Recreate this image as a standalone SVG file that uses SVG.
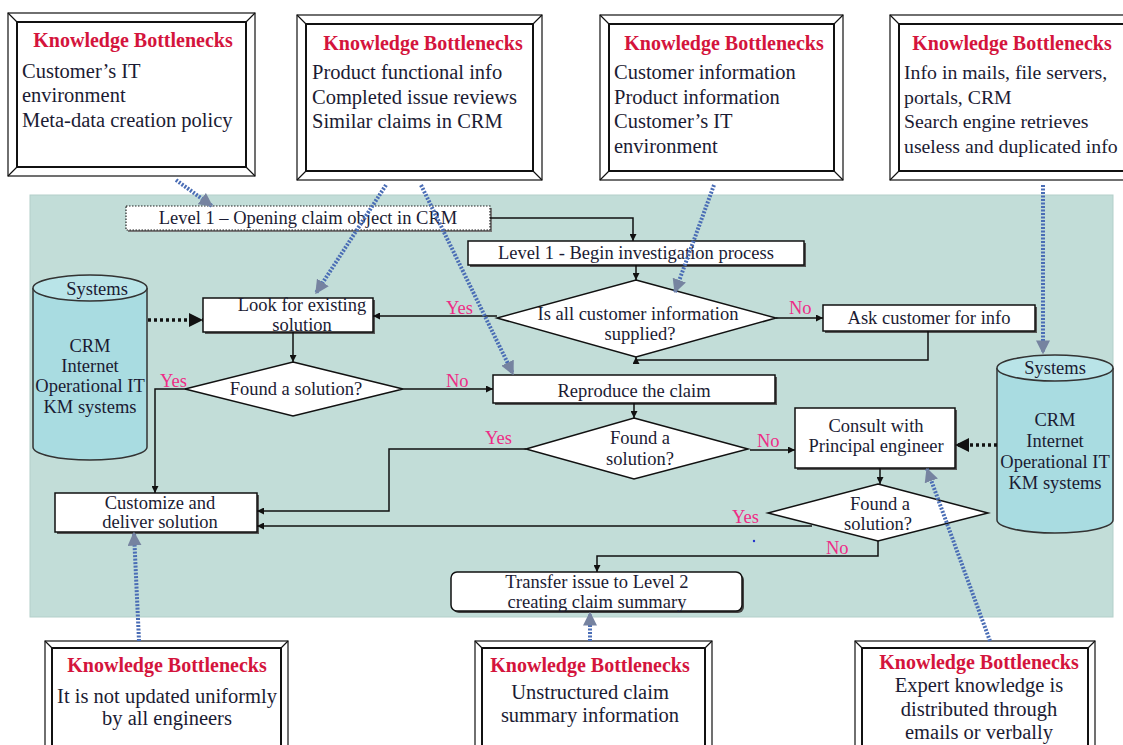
<svg xmlns="http://www.w3.org/2000/svg" width="1123" height="745" viewBox="0 0 1123 745">
<defs>
<style>
.t{font-family:"Liberation Serif","Times New Roman","DejaVu Serif",serif;fill:#1b1b33}
.fl{font-size:18.5px}
.bt{font-family:"Liberation Serif","Times New Roman","DejaVu Serif",serif;font-weight:bold;font-size:20px;fill:#d4143c}
.bb{font-size:20.5px}
.bs{font-size:19.8px}
.yn{font-family:"Liberation Serif","Times New Roman","DejaVu Serif",serif;font-size:18.5px;fill:#ee2c86}
.box{fill:#fff;stroke:#111;stroke-width:1.5}
.sh{fill:#555}
.dia{fill:#fff;stroke:#111;stroke-width:1.5}
.cyl{fill:#a9dce1;stroke:#333;stroke-width:1.5}
.cylt{fill:#b9e4e8;stroke:#333;stroke-width:1.5}
.fo{fill:#fff;stroke:#111;stroke-width:1.2}
.fi{fill:#fff;stroke:#111;stroke-width:2}
.fc{stroke:#111;stroke-width:1.2}
.ln{fill:none;stroke:#111;stroke-width:1.5}
.dt{fill:none;stroke:#111;stroke-width:3.5;stroke-dasharray:3 3}
.bl{fill:none;stroke:#4a6db5;stroke-width:4;stroke-dasharray:2 1.5}
</style>
<marker id="ah" viewBox="0 0 10 10" refX="10" refY="5" markerWidth="7" markerHeight="7" markerUnits="userSpaceOnUse" orient="auto"><path d="M0,0 L10,5 L0,10 z" fill="#111"/></marker>
<marker id="ahd" viewBox="0 0 10 10" refX="10" refY="5" markerWidth="4" markerHeight="4" orient="auto"><path d="M0,0 L10,5 L0,10 z" fill="#111"/></marker>
<marker id="ahb" viewBox="0 0 10 10" refX="9" refY="5" markerWidth="3.5" markerHeight="3.5" orient="auto"><path d="M0,0 L10,5 L0,10 z" fill="#7683a0"/></marker>
</defs>

<rect x="30" y="195" width="1083" height="422" fill="#c2ddd8" stroke="#b3cfca" stroke-width="1"/>

<!-- Knowledge bottleneck frames -->
<g id="kb1">
<rect class="fo" x="8" y="13" width="247" height="163"/>
<rect class="fi" x="17" y="22" width="229" height="145"/>
<path class="fc" d="M8,13 L17,22 M255,13 L246,22 M8,176 L17,167 M255,176 L246,167"/>
<text class="bt" x="133" y="47" text-anchor="middle">Knowledge Bottlenecks</text>
<text class="t bb" x="22" y="78">Customer’s IT</text>
<text class="t bb" x="22" y="102">environment</text>
<text class="t bb" x="22" y="127">Meta-data creation policy</text>
</g>
<g id="kb2">
<rect class="fo" x="297" y="15" width="245" height="165"/>
<rect class="fi" x="306" y="24" width="227" height="147"/>
<path class="fc" d="M297,15 L306,24 M542,15 L533,24 M297,180 L306,171 M542,180 L533,171"/>
<text class="bt" x="423" y="50" text-anchor="middle">Knowledge Bottlenecks</text>
<text class="t bb" x="312" y="79">Product functional info</text>
<text class="t bb" x="312" y="104">Completed issue reviews</text>
<text class="t bb" x="312" y="128">Similar claims in CRM</text>
</g>
<g id="kb3">
<rect class="fo" x="600" y="15" width="243" height="165"/>
<rect class="fi" x="609" y="24" width="225" height="147"/>
<path class="fc" d="M600,15 L609,24 M843,15 L834,24 M600,180 L609,171 M843,180 L834,171"/>
<text class="bt" x="724" y="50" text-anchor="middle">Knowledge Bottlenecks</text>
<text class="t bb" x="614" y="79">Customer information</text>
<text class="t bb" x="614" y="104">Product information</text>
<text class="t bb" x="614" y="128">Customer’s IT</text>
<text class="t bb" x="614" y="153">environment</text>
</g>
<g id="kb4">
<rect class="fo" x="890" y="15" width="245" height="165"/>
<rect class="fi" x="899" y="24" width="227" height="147"/>
<path class="fc" d="M890,15 L899,24 M890,180 L899,171"/>
<text class="bt" x="1012" y="50" text-anchor="middle">Knowledge Bottlenecks</text>
<text class="t bs" x="904" y="79">Info in mails, file servers,</text>
<text class="t bs" x="904" y="104">portals, CRM</text>
<text class="t bs" x="904" y="128">Search engine retrieves</text>
<text class="t bs" x="904" y="153">useless and duplicated info</text>
</g>
<g id="kb5">
<rect class="fo" x="45" y="641" width="243" height="120"/>
<rect class="fi" x="52" y="648" width="229" height="110"/>
<path class="fc" d="M45,641 L52,648 M288,641 L281,648"/>
<text class="bt" x="167" y="672" text-anchor="middle">Knowledge Bottlenecks</text>
<text class="t bb" x="167" y="703" text-anchor="middle">It is not updated uniformly</text>
<text class="t bb" x="167" y="725" text-anchor="middle">by all engineers</text>
</g>
<g id="kb6">
<rect class="fo" x="475" y="641" width="237" height="120"/>
<rect class="fi" x="482" y="648" width="223" height="110"/>
<path class="fc" d="M475,641 L482,648 M712,641 L705,648"/>
<text class="bt" x="590" y="672" text-anchor="middle">Knowledge Bottlenecks</text>
<text class="t bb" x="590" y="699" text-anchor="middle">Unstructured claim</text>
<text class="t bb" x="590" y="722" text-anchor="middle">summary information</text>
</g>
<g id="kb7">
<rect class="fo" x="855" y="641" width="240" height="120"/>
<rect class="fi" x="862" y="648" width="226" height="110"/>
<path class="fc" d="M855,641 L862,648 M1095,641 L1088,648"/>
<text class="bt" x="979" y="669" text-anchor="middle">Knowledge Bottlenecks</text>
<text class="t bb" x="979" y="692" text-anchor="middle">Expert knowledge is</text>
<text class="t bb" x="979" y="716" text-anchor="middle">distributed through</text>
<text class="t bb" x="979" y="739" text-anchor="middle">emails or verbally</text>
</g>

<!-- Systems cylinders -->
<g id="sys1">
<path class="cyl" d="M33,288 V447 A57,13 0 0 0 147,447 V288"/>
<ellipse class="cylt" cx="90" cy="288" rx="57" ry="13"/>
<text class="t fl" x="97" y="295" text-anchor="middle">Systems</text>
<text class="t fl" x="90" y="352" text-anchor="middle">CRM</text>
<text class="t fl" x="90" y="372" text-anchor="middle">Internet</text>
<text class="t fl" x="90" y="392" text-anchor="middle">Operational IT</text>
<text class="t fl" x="90" y="413" text-anchor="middle">KM systems</text>
</g>
<g id="sys2">
<path class="cyl" d="M997,368 V520 A58,13 0 0 0 1113,520 V368"/>
<ellipse class="cylt" cx="1055" cy="368" rx="58" ry="13"/>
<text class="t fl" x="1055" y="374" text-anchor="middle">Systems</text>
<text class="t fl" x="1055" y="426" text-anchor="middle">CRM</text>
<text class="t fl" x="1055" y="447" text-anchor="middle">Internet</text>
<text class="t fl" x="1055" y="468" text-anchor="middle">Operational IT</text>
<text class="t fl" x="1055" y="489" text-anchor="middle">KM systems</text>
</g>

<!-- Process nodes -->
<g id="open">
<rect x="128" y="208" width="364" height="24" fill="#777"/>
<rect x="126" y="206" width="364" height="24" fill="#fff" stroke="#222" stroke-width="1.2" stroke-dasharray="1.5 1.5"/>
<text class="t fl" x="308" y="224" text-anchor="middle">Level 1 – Opening claim object in CRM</text>
</g>
<g id="begin">
<rect class="sh" x="470" y="243" width="336" height="24"/>
<rect class="box" x="468" y="241" width="336" height="24"/>
<text class="t fl" x="636" y="259" text-anchor="middle">Level 1 - Begin investigation process</text>
</g>
<g id="d1">
<polygon class="dia" points="636,280 776,318 636,357 497,318"/>
<text class="t fl" x="638" y="320" text-anchor="middle">Is all customer information</text>
<text class="t fl" x="640" y="340" text-anchor="middle">supplied?</text>
</g>
<g id="ask">
<rect class="sh" x="825" y="307" width="212" height="26"/>
<rect class="box" x="823" y="305" width="212" height="26"/>
<text class="t fl" x="929" y="324" text-anchor="middle">Ask customer for info</text>
</g>
<g id="look">
<rect class="sh" x="205" y="300" width="170" height="34"/>
<rect class="box" x="203" y="298" width="170" height="34"/>
<text class="t fl" x="302" y="311" text-anchor="middle">Look for existing</text>
<text class="t fl" x="302" y="331" text-anchor="middle">solution</text>
</g>
<g id="d2">
<polygon class="dia" points="293,362 403,389 293,416 185,389"/>
<text class="t fl" x="296" y="395" text-anchor="middle">Found a solution?</text>
</g>
<g id="repro">
<rect class="sh" x="495" y="377" width="282" height="28"/>
<rect class="box" x="493" y="375" width="282" height="28"/>
<text class="t fl" x="634" y="397" text-anchor="middle">Reproduce the claim</text>
</g>
<g id="d3">
<polygon class="dia" points="634,418 748,449 634,479 526,449"/>
<text class="t fl" x="640" y="444" text-anchor="middle">Found a</text>
<text class="t fl" x="640" y="465" text-anchor="middle">solution?</text>
</g>
<g id="consult">
<rect class="sh" x="797" y="410" width="160" height="60"/>
<rect class="box" x="795" y="408" width="160" height="60"/>
<text class="t fl" x="876" y="432" text-anchor="middle">Consult with</text>
<text class="t fl" x="876" y="452" text-anchor="middle">Principal engineer</text>
</g>
<g id="d4">
<polygon class="dia" points="878,484 988,513 878,541 768,513"/>
<text class="t fl" x="880" y="510" text-anchor="middle">Found a</text>
<text class="t fl" x="878" y="530" text-anchor="middle">solution?</text>
</g>
<g id="custom">
<rect class="sh" x="57" y="495" width="202" height="39"/>
<rect class="box" x="55" y="493" width="202" height="39"/>
<text class="t fl" x="160" y="509" text-anchor="middle">Customize and</text>
<text class="t fl" x="160" y="528" text-anchor="middle">deliver solution</text>
</g>
<g id="transfer">
<rect x="453" y="574" width="291" height="39" rx="6" fill="#444"/>
<rect x="451" y="572" width="291" height="39" rx="6" fill="#fff" stroke="#111" stroke-width="1.5"/>
<text class="t fl" x="597" y="588" text-anchor="middle">Transfer issue to Level 2</text>
<text class="t fl" x="597" y="608" text-anchor="middle">creating claim summary</text>
</g>

<!-- Connectors -->
<g id="connectors">
<path class="ln" d="M490,218 H633 V241" marker-end="url(#ah)"/>
<path class="ln" d="M636,265 V280" marker-end="url(#ah)"/>
<path class="ln" d="M497,316 H373" marker-end="url(#ah)"/>
<path class="ln" d="M776,318 H823" marker-end="url(#ah)"/>
<path class="ln" d="M928,331 V360 H636 V357" marker-end="url(#ah)"/>
<path class="dt" d="M148,320 H203" marker-end="url(#ahd)"/>
<path class="ln" d="M293,332 V362" marker-end="url(#ah)"/>
<path class="ln" d="M187,389 H155 V493" marker-end="url(#ah)"/>
<path class="ln" d="M403,389 H493" marker-end="url(#ah)"/>
<path class="ln" d="M634,403 V418" marker-end="url(#ah)"/>
<path class="ln" d="M526,449 H389 V511 H257" marker-end="url(#ah)"/>
<path class="ln" d="M750,450 H795" marker-end="url(#ah)"/>
<path class="dt" d="M997,445 H955" marker-end="url(#ahd)"/>
<path class="ln" d="M880,468 V484" marker-end="url(#ah)"/>
<path class="ln" d="M812,526 H257" marker-end="url(#ah)"/>
<path class="ln" d="M878,541 V556 H597 V572" marker-end="url(#ah)"/>

<text class="yn" x="446" y="314">Yes</text>
<text class="yn" x="789" y="314">No</text>
<text class="yn" x="160" y="387">Yes</text>
<text class="yn" x="446" y="387">No</text>
<text class="yn" x="485" y="444">Yes</text>
<text class="yn" x="757" y="447">No</text>
<text class="yn" x="732" y="523">Yes</text>
<text class="yn" x="826" y="554">No</text>
<circle cx="754" cy="541" r="1.2" fill="#2233cc"/>

<path class="bl" d="M176,180 L212,206" marker-end="url(#ahb)"/>
<path class="bl" d="M386,185 L316,293" marker-end="url(#ahb)"/>
<path class="bl" d="M421,185 L513,374" marker-end="url(#ahb)"/>
<path class="bl" d="M714,185 L675,292" marker-end="url(#ahb)"/>
<path class="bl" d="M1043,185 V353" marker-end="url(#ahb)"/>
<path class="bl" d="M139,641 L134,533" marker-end="url(#ahb)"/>
<path class="bl" d="M590,641 V613" marker-end="url(#ahb)"/>
<path class="bl" d="M990,641 L927,469" marker-end="url(#ahb)"/>
</g>
</svg>
